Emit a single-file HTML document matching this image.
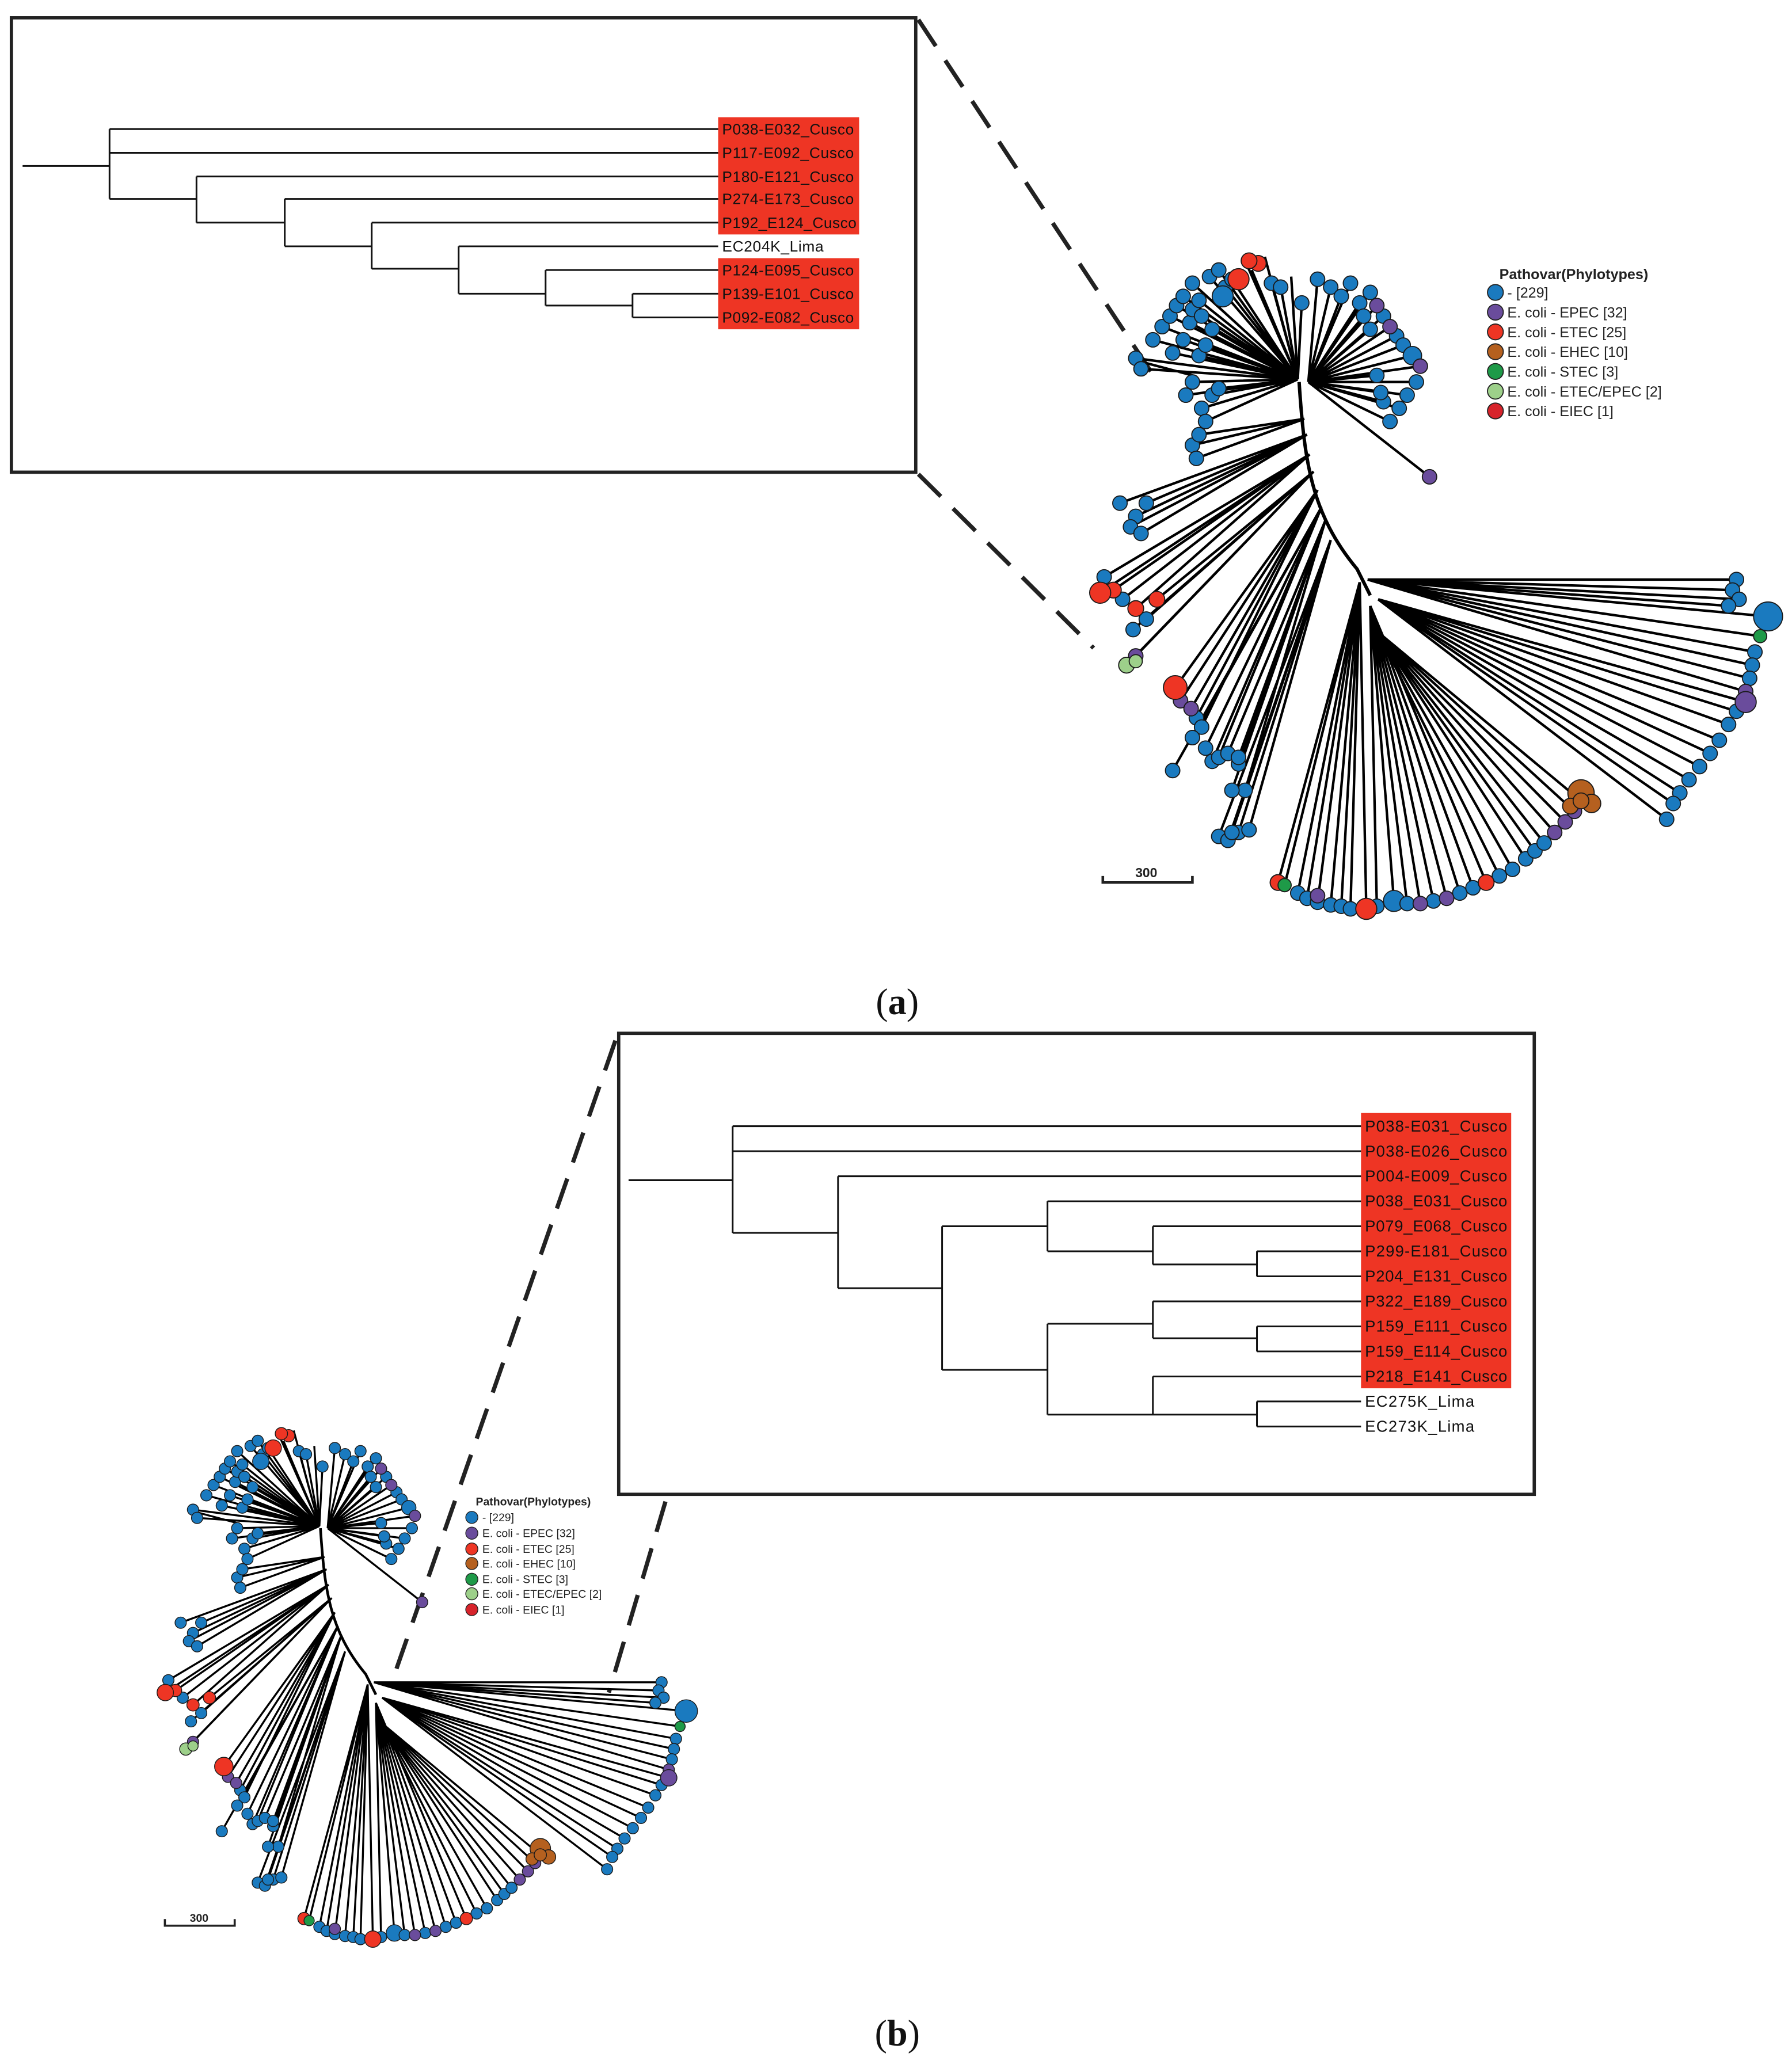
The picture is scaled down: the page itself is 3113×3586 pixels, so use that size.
<!DOCTYPE html>
<html><head><meta charset="utf-8"><style>html,body{margin:0;padding:0;background:#fff}svg{display:block}</style></head>
<body>
<svg xmlns="http://www.w3.org/2000/svg" xmlns:xlink="http://www.w3.org/1999/xlink" width="3113" height="3586" viewBox="0 0 1360 1567" font-family="Liberation Sans, sans-serif">
<rect width="1360" height="1567" fill="#fff"/>
<rect x="8.5" y="13.5" width="686.5" height="345" fill="none" stroke="#222" stroke-width="2.5"/>
<g stroke="#222" stroke-width="3.2" stroke-dasharray="24,13" fill="none">
<line x1="697" y1="15" x2="880" y2="292"/>
<line x1="697" y1="360" x2="830" y2="492"/>
<line x1="467" y1="790" x2="298" y2="1275"/>
<line x1="505" y1="1140" x2="462" y2="1285"/>
</g>
<g fill="#ee3524"><rect x="545" y="89" width="107" height="89"/><rect x="545" y="196" width="107" height="54"/></g>
<path stroke="#111" stroke-width="1.3" fill="none" d="M17 126H83M83 98V151M83 98H545M83 116H545M83 151H149M149 134V169M149 134H545M149 169H216M216 151V187M216 151H545M216 187H282M282 169V204M282 169H545M282 204H348M348 187V223M348 187H545M348 223H414M414 205V232M414 205H545M414 232H480M480 223V241M480 223H545M480 241H545"/>
<g font-size="11.5" fill="#111">
<text x="548" y="102" textLength="100">P038-E032_Cusco</text>
<text x="548" y="120" textLength="100">P117-E092_Cusco</text>
<text x="548" y="138" textLength="100">P180-E121_Cusco</text>
<text x="548" y="155" textLength="100">P274-E173_Cusco</text>
<text x="548" y="173" textLength="102">P192_E124_Cusco</text>
<text x="548" y="191" textLength="77">EC204K_Lima</text>
<text x="548" y="209" textLength="100">P124-E095_Cusco</text>
<text x="548" y="227" textLength="100">P139-E101_Cusco</text>
<text x="548" y="245" textLength="100">P092-E082_Cusco</text>
</g>
<rect x="469.5" y="784.5" width="695" height="350" fill="none" stroke="#222" stroke-width="2.5"/>
<rect x="1033" y="845" width="114" height="209" fill="#ee3524"/>
<path stroke="#111" stroke-width="1.3" fill="none" d="M477 896H556M556 855V936M556 855H1033M556 874H1033M556 936H636M636 893V978M636 893H1033M636 978H715M715 931V1040M715 931H795M795 912V950M795 912H1033M795 950H875M875 931V960M875 931H1033M875 960H954M954 950V969M954 950H1033M954 969H1033M715 1040H795M795 1005V1074M795 1005H875M875 988V1016M875 988H1033M875 1016H954M954 1007V1026M954 1007H1033M954 1026H1033M795 1074H875M875 1045V1074M875 1045H1033M875 1074H954M954 1064V1083M954 1064H1033M954 1083H1033"/>
<g font-size="12" fill="#111">
<text x="1036" y="859" textLength="108">P038-E031_Cusco</text>
<text x="1036" y="878" textLength="108">P038-E026_Cusco</text>
<text x="1036" y="897" textLength="108">P004-E009_Cusco</text>
<text x="1036" y="916" textLength="108">P038_E031_Cusco</text>
<text x="1036" y="935" textLength="108">P079_E068_Cusco</text>
<text x="1036" y="954" textLength="108">P299-E181_Cusco</text>
<text x="1036" y="973" textLength="108">P204_E131_Cusco</text>
<text x="1036" y="992" textLength="108">P322_E189_Cusco</text>
<text x="1036" y="1011" textLength="108">P159_E111_Cusco</text>
<text x="1036" y="1030" textLength="108">P159_E114_Cusco</text>
<text x="1036" y="1049" textLength="108">P218_E141_Cusco</text>
<text x="1036" y="1068" textLength="83">EC275K_Lima</text>
<text x="1036" y="1087" textLength="83">EC273K_Lima</text>
</g>
<g id="treeA">
<path d="M986 290C990 350 995 390 1030 432L1040 452" stroke="#000" stroke-width="2.6" fill="none"/>
<path stroke="#000" stroke-width="1.9" fill="none" d="
M985 288L862 272M985 288L866 280M985 288L875 258M985 288L882 248M985 288L888 240M985 288L893 232M985 288L898 225M985 288L905 215M985 288L903 245M985 288L905 235M985 288L910 228M985 288L912 240M985 288L918 210M985 288L925 205M985 288L930 218M985 288L935 212M985 288L945 198M985 288L950 205M985 288L960 195M985 288L965 215M985 288L972 218M985 288L980 210M985 288L988 230M985 288L900 300M985 288L905 290M985 288L912 310M985 288L915 320M985 288L920 300M985 288L925 295M985 288L910 270M985 288L915 262M985 288L920 250M985 288L898 258M985 288L890 268M860 273L905 285
M993 290L1000 212M993 290L1010 218M993 290L1018 225M993 290L1025 215M993 290L1032 230M993 290L1040 222M993 290L1045 232M993 290L1050 240M993 290L1055 248M993 290L1060 255M993 290L1065 262M993 290L1072 270M993 290L1078 278M993 290L1075 290M993 290L1068 300M993 290L1062 310M993 290L1055 320M993 290L1050 305M993 290L1048 298M993 290L1045 285M993 290L1040 250M993 290L1035 240M993 290L1085 362
M990 318L905 338M990 318L908 348M990 318L910 330
M992 330L870 382M992 330L862 392M992 330L850 382M992 330L858 400M992 330L866 405
M994 345L838 438M994 345L845 448M994 345L852 455M994 345L835 450M994 345L862 462
M997 358L878 455M997 358L870 470M997 358L860 478M997 358L855 505M997 358L862 498
M1000 372L892 522M1000 372L896 532M1000 372L904 538M1000 372L908 545M1000 372L912 552
M1003 385L905 560M1003 385L915 568M1003 385L920 578M1003 385L890 585M1003 385L925 575
M1006 395L932 572M1006 395L940 580M1006 395L945 600M1006 395L935 600M1006 395L940 575
M1010 410L925 635M1010 410L932 638M1010 410L940 632M1010 410L948 630M1010 410L935 632
M1032 442L970 670M1032 442L975 672M1032 442L985 678M1032 442L992 682M1032 442L1000 685M1032 442L1010 687M1032 442L1018 688M1032 442L1025 690M1032 442L1037 690
M1040 460L1045 688M1040 460L1058 684M1040 460L1068 686M1040 460L1078 686M1040 460L1088 684M1040 460L1098 682M1040 460L1108 678M1040 460L1118 674M1040 460L1128 670
M1046 480L1138 665M1046 480L1148 660M1046 480L1158 652M1046 480L1165 646M1046 480L1172 640M1046 480L1180 632M1046 480L1188 624M1046 480L1195 616M1046 480L1200 608
M1038 440L1318 440M1038 440L1315 448M1038 440L1320 455M1038 440L1312 460M1038 440L1342 468M1038 440L1336 483M1038 440L1332 495M1038 440L1330 505M1038 440L1328 515M1038 440L1325 525
M1046 455L1325 533M1046 455L1318 540M1046 455L1312 550M1046 455L1305 562M1046 455L1298 572M1046 455L1290 582M1046 455L1282 592M1046 455L1275 602M1046 455L1270 610M1046 455L1265 622"/>
<g stroke="#1a1a1a" stroke-width="0.8">
<g fill="#1a7abf">
<circle cx="862" cy="272" r="5.5"/><circle cx="866" cy="280" r="5.5"/><circle cx="875" cy="258" r="5.5"/><circle cx="882" cy="248" r="5.5"/><circle cx="888" cy="240" r="5.5"/><circle cx="893" cy="232" r="5.5"/><circle cx="898" cy="225" r="5.5"/><circle cx="905" cy="215" r="5.5"/><circle cx="903" cy="245" r="5.5"/><circle cx="905" cy="235" r="5.5"/><circle cx="910" cy="228" r="5.5"/><circle cx="912" cy="240" r="5.5"/><circle cx="918" cy="210" r="5.5"/><circle cx="925" cy="205" r="5.5"/><circle cx="930" cy="218" r="5.5"/><circle cx="935" cy="212" r="5.5"/><circle cx="965" cy="215" r="5.5"/><circle cx="972" cy="218" r="5.5"/><circle cx="988" cy="230" r="5.5"/><circle cx="900" cy="300" r="5.5"/><circle cx="905" cy="290" r="5.5"/><circle cx="912" cy="310" r="5.5"/><circle cx="915" cy="320" r="5.5"/><circle cx="920" cy="300" r="5.5"/><circle cx="925" cy="295" r="5.5"/><circle cx="910" cy="270" r="5.5"/><circle cx="915" cy="262" r="5.5"/><circle cx="920" cy="250" r="5.5"/><circle cx="898" cy="258" r="5.5"/><circle cx="890" cy="268" r="5.5"/><circle cx="928" cy="225" r="8"/>
<circle cx="1000" cy="212" r="5.5"/><circle cx="1010" cy="218" r="5.5"/><circle cx="1018" cy="225" r="5.5"/><circle cx="1025" cy="215" r="5.5"/><circle cx="1032" cy="230" r="5.5"/><circle cx="1040" cy="222" r="5.5"/><circle cx="1050" cy="240" r="5.5"/><circle cx="1060" cy="255" r="5.5"/><circle cx="1065" cy="262" r="5.5"/><circle cx="1075" cy="290" r="5.5"/><circle cx="1068" cy="300" r="5.5"/><circle cx="1062" cy="310" r="5.5"/><circle cx="1055" cy="320" r="5.5"/><circle cx="1050" cy="305" r="5.5"/><circle cx="1048" cy="298" r="5.5"/><circle cx="1045" cy="285" r="5.5"/><circle cx="1040" cy="250" r="5.5"/><circle cx="1035" cy="240" r="5.5"/><circle cx="1072" cy="270" r="7"/>
<circle cx="905" cy="338" r="5.5"/><circle cx="908" cy="348" r="5.5"/><circle cx="910" cy="330" r="5.5"/><circle cx="870" cy="382" r="5.5"/><circle cx="862" cy="392" r="5.5"/><circle cx="850" cy="382" r="5.5"/><circle cx="858" cy="400" r="5.5"/><circle cx="866" cy="405" r="5.5"/><circle cx="838" cy="438" r="5.5"/><circle cx="852" cy="455" r="5.5"/><circle cx="870" cy="470" r="5.5"/><circle cx="860" cy="478" r="5.5"/><circle cx="908" cy="545" r="5.5"/><circle cx="912" cy="552" r="5.5"/><circle cx="905" cy="560" r="5.5"/><circle cx="915" cy="568" r="5.5"/><circle cx="920" cy="578" r="5.5"/><circle cx="890" cy="585" r="5.5"/><circle cx="925" cy="575" r="5.5"/><circle cx="932" cy="572" r="5.5"/><circle cx="940" cy="580" r="5.5"/><circle cx="945" cy="600" r="5.5"/><circle cx="935" cy="600" r="5.5"/><circle cx="940" cy="575" r="5.5"/><circle cx="925" cy="635" r="5.5"/><circle cx="932" cy="638" r="5.5"/><circle cx="940" cy="632" r="5.5"/><circle cx="948" cy="630" r="5.5"/><circle cx="935" cy="632" r="5.5"/>
<circle cx="985" cy="678" r="5.5"/><circle cx="992" cy="682" r="5.5"/><circle cx="1000" cy="685" r="5.5"/><circle cx="1010" cy="687" r="5.5"/><circle cx="1018" cy="688" r="5.5"/><circle cx="1025" cy="690" r="5.5"/><circle cx="1045" cy="688" r="5.5"/><circle cx="1058" cy="684" r="8"/><circle cx="1068" cy="686" r="5.5"/><circle cx="1088" cy="684" r="5.5"/><circle cx="1108" cy="678" r="5.5"/><circle cx="1118" cy="674" r="5.5"/><circle cx="1138" cy="665" r="5.5"/><circle cx="1148" cy="660" r="5.5"/><circle cx="1158" cy="652" r="5.5"/><circle cx="1165" cy="646" r="5.5"/><circle cx="1172" cy="640" r="5.5"/>
<circle cx="1318" cy="440" r="5.5"/><circle cx="1315" cy="448" r="5.5"/><circle cx="1320" cy="455" r="5.5"/><circle cx="1312" cy="460" r="5.5"/><circle cx="1342" cy="468" r="11"/><circle cx="1332" cy="495" r="5.5"/><circle cx="1330" cy="505" r="5.5"/><circle cx="1328" cy="515" r="5.5"/><circle cx="1318" cy="540" r="5.5"/><circle cx="1312" cy="550" r="5.5"/><circle cx="1305" cy="562" r="5.5"/><circle cx="1298" cy="572" r="5.5"/><circle cx="1290" cy="582" r="5.5"/><circle cx="1282" cy="592" r="5.5"/><circle cx="1275" cy="602" r="5.5"/><circle cx="1270" cy="610" r="5.5"/><circle cx="1265" cy="622" r="5.5"/>
</g>
<g fill="#6a4c9c">
<circle cx="1045" cy="232" r="5.5"/><circle cx="1055" cy="248" r="5.5"/><circle cx="1078" cy="278" r="5.5"/><circle cx="1085" cy="362" r="5.5"/><circle cx="862" cy="498" r="5.5"/><circle cx="896" cy="532" r="5.5"/><circle cx="904" cy="538" r="5.5"/><circle cx="1078" cy="686" r="5.5"/><circle cx="1098" cy="682" r="5.5"/><circle cx="1180" cy="632" r="5.5"/><circle cx="1188" cy="624" r="5.5"/><circle cx="1195" cy="616" r="5.5"/><circle cx="1325" cy="525" r="5.5"/><circle cx="1325" cy="533" r="8"/><circle cx="1000" cy="680" r="5.5"/>
</g>
<g fill="#ee3524">
<circle cx="940" cy="212" r="8"/><circle cx="955" cy="200" r="6"/><circle cx="948" cy="198" r="6"/><circle cx="845" cy="448" r="6"/><circle cx="835" cy="450" r="8"/><circle cx="862" cy="462" r="6"/><circle cx="878" cy="455" r="6"/><circle cx="892" cy="522" r="9"/><circle cx="970" cy="670" r="6"/><circle cx="1037" cy="690" r="8"/><circle cx="1128" cy="670" r="6"/>
</g>
<g fill="#b5601f"><circle cx="1200" cy="602" r="10"/><circle cx="1208" cy="610" r="7"/><circle cx="1192" cy="612" r="6"/><circle cx="1200" cy="608" r="6"/></g>
<g fill="#1e9a48"><circle cx="1336" cy="483" r="5"/><circle cx="975" cy="672" r="5"/></g>
<g fill="#9dd08a"><circle cx="855" cy="505" r="6"/><circle cx="862" cy="502" r="5"/></g>
</g>
</g>
<use href="#treeA" xlink:href="#treeA" transform="translate(-526,934) scale(0.78)"/>
<g font-size="11" fill="#222">
<text x="1138" y="212" font-weight="bold">Pathovar(Phylotypes)</text>
<g stroke="#222" stroke-width="0.8">
<circle cx="1135" cy="222" r="6" fill="#1a7abf"/><circle cx="1135" cy="237" r="6" fill="#6a4c9c"/><circle cx="1135" cy="252" r="6" fill="#ee3524"/><circle cx="1135" cy="267" r="6" fill="#b5601f"/><circle cx="1135" cy="282" r="6" fill="#1e9a48"/><circle cx="1135" cy="297" r="6" fill="#9dd08a"/><circle cx="1135" cy="312" r="6" fill="#d7232b"/>
</g>
<text x="1144" y="226">- [229]</text><text x="1144" y="241">E. coli - EPEC [32]</text><text x="1144" y="256">E. coli - ETEC [25]</text><text x="1144" y="271">E. coli - EHEC [10]</text><text x="1144" y="286">E. coli - STEC [3]</text><text x="1144" y="301">E. coli - ETEC/EPEC [2]</text><text x="1144" y="316">E. coli - EIEC [1]</text>
</g>
<g font-size="8.5" fill="#222">
<text x="361" y="1143" font-weight="bold">Pathovar(Phylotypes)</text>
<g stroke="#222" stroke-width="0.6">
<circle cx="358" cy="1152" r="4.6" fill="#1a7abf"/><circle cx="358" cy="1164" r="4.6" fill="#6a4c9c"/><circle cx="358" cy="1176" r="4.6" fill="#ee3524"/><circle cx="358" cy="1187" r="4.6" fill="#b5601f"/><circle cx="358" cy="1199" r="4.6" fill="#1e9a48"/><circle cx="358" cy="1210" r="4.6" fill="#9dd08a"/><circle cx="358" cy="1222" r="4.6" fill="#d7232b"/>
</g>
<text x="366" y="1155">- [229]</text><text x="366" y="1167">E. coli - EPEC [32]</text><text x="366" y="1179">E. coli - ETEC [25]</text><text x="366" y="1190">E. coli - EHEC [10]</text><text x="366" y="1202">E. coli - STEC [3]</text><text x="366" y="1213">E. coli - ETEC/EPEC [2]</text><text x="366" y="1225">E. coli - EIEC [1]</text>
</g>
<path d="M837 665V670H905V665" stroke="#222" stroke-width="2" fill="none"/>
<text x="870" y="666" font-size="10" font-weight="bold" text-anchor="middle" fill="#222">300</text>
<path d="M125 1457V1462H178V1457" stroke="#222" stroke-width="1.6" fill="none"/>
<text x="151" y="1459" font-size="8.5" font-weight="bold" text-anchor="middle" fill="#222">300</text>
<text x="681" y="770" font-family="Liberation Serif, serif" font-size="28" text-anchor="middle" fill="#111">(<tspan font-weight="bold">a</tspan>)</text>
<text x="681" y="1553" font-family="Liberation Serif, serif" font-size="28" text-anchor="middle" fill="#111">(<tspan font-weight="bold">b</tspan>)</text>
</svg>
</body></html>
